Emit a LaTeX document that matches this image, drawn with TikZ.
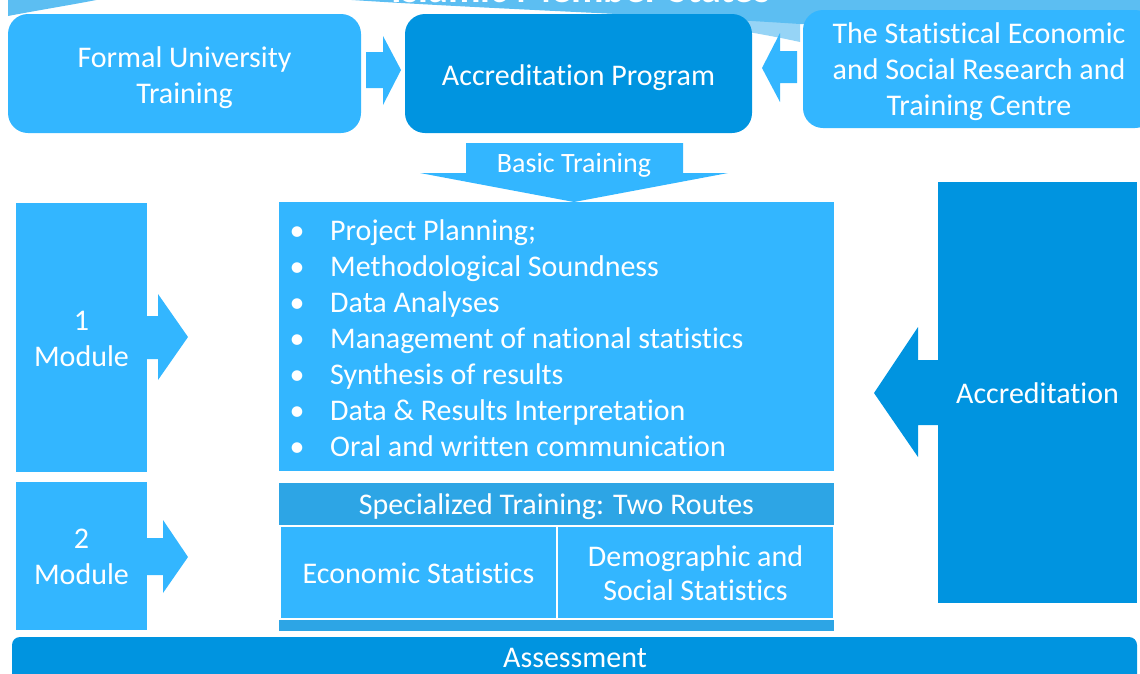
\documentclass[tikz,border=0pt]{standalone}
\usepackage{fontspec}
\setmainfont{Carlito}[Ligatures=NoCommon]
\definecolor{lb}{RGB}{51,182,255}
\definecolor{db}{RGB}{0,148,224}
\definecolor{mb}{RGB}{45,165,229}
\definecolor{rib}{RGB}{92,190,242}
\definecolor{ribl}{RGB}{150,212,246}
\tikzset{
  txt/.style={text=white, font=\fontsize{30}{36}\selectfont, inner sep=0pt, align=center},
  box/.style={fill=#1, inner sep=0pt},
  tbox/.style={fill=#1, inner sep=0pt, rounded corners=20pt}
}
\begin{document}
\begin{tikzpicture}[x=1pt,y=-1pt]
\useasboundingbox (0,0) rectangle (1140,673);
\clip (0,0) rectangle (1140,673);
% ribbon banner
\fill[rib] (8,-5) -- (8,16) .. controls (50,8) and (90,2) .. (120,-5) -- cycle;
\fill[ribl] (420,-5) .. controls (560,8) and (700,20) .. (800,42) -- (800,20) -- (1145,10) -- (1145,-5) -- cycle;
\fill[rib] (280,-5) .. controls (450,8) and (650,14) .. (800,24) .. controls (950,32) and (1050,20) .. (1145,16) -- (1145,-5) -- cycle;
\node[txt, font=\bfseries\fontsize{40}{48}\selectfont, anchor=base] (title) at (581,2) {Islamic Member States};
% top boxes
\node[tbox=lb, minimum width=353pt, minimum height=119pt] (formal) at (184.5,73.5) {};
\node[txt, yshift=-4pt] (formaltxt) at (formal) {Formal University\\Training};
\node[tbox=db, minimum width=347pt, minimum height=119pt] (accprog) at (578.5,73.5) {};
\node[txt, yshift=-4pt] (accprogtxt) at (accprog) {Accreditation Program};
\node[tbox=lb, minimum width=352pt, minimum height=118pt] (sesric) at (979,69) {};
\node[txt, yshift=-3pt] (sesrictxt) at (sesric) {The Statistical Economic\\and Social Research and\\Training Centre};
% top arrows
\fill[lb] (366,52) -- (383,52) -- (383,36) -- (401,70) -- (383,105) -- (383,88) -- (366,88) -- cycle;
\fill[lb] (797,51) -- (780,51) -- (780,33) -- (762,68) -- (780,102) -- (780,83) -- (797,83) -- cycle;
% basic training arrow
\fill[lb] (466,143) -- (683,143) -- (683,173) -- (728,173) -- (574,202) -- (420,173) -- (466,173) -- cycle;
\node[txt, font=\fontsize{28}{34}\selectfont] (basic) at (574,165) {Basic Training};
% bullet box
\fill[lb] (279,202) rectangle (834,471);
\foreach \t [count=\i] in {Project Planning;, Methodological Soundness, Data Analyses, Management of national statistics, Synthesis of results, Data \& Results Interpretation, Oral and written communication}{
  \node[txt, anchor=base west] (item\i) at (330,{240+36.15*(\i-1)}) {\t};
  \node[txt, anchor=base] (dot\i) at (297,{240+36.15*(\i-1)}) {•};
}
% modules
\node[box=lb, minimum width=131pt, minimum height=269pt] (mod1) at (81.5,337.5) {};
\node[txt, yshift=-1pt] (mod1txt) at (mod1) {1\\Module};
\fill[lb] (147,316) -- (158,316) -- (158,294) -- (188,337) -- (158,380) -- (158,359) -- (147,359) -- cycle;
\node[box=lb, minimum width=131pt, minimum height=148pt] (mod2) at (81.5,556) {};
\node[txt, yshift=-1pt] (mod2txt) at (mod2) {2\\Module};
\fill[lb] (147,538) -- (163,538) -- (163,520) -- (188,557) -- (163,593) -- (163,575) -- (147,575) -- cycle;
% specialized
\node[box=mb, minimum width=555pt, minimum height=42pt] (spec) at (556.5,503.5) {};
\node[txt, yshift=-3pt] (spectxt) at (spec) {Specialized Training: Two Routes};
\node[box=lb, minimum width=275pt, minimum height=91pt] (econ) at (418.5,572.5) {};
\node[txt, yshift=-1pt] (econtxt) at (econ) {Economic Statistics};
\node[box=lb, minimum width=275pt, minimum height=91pt] (demo) at (695.5,572.5) {};
\node[txt, yshift=-1pt] (demotxt) at (demo) {Demographic and\\[-2pt]Social Statistics};
\fill[mb] (279,620) rectangle (834,631);
% accreditation
\node[box=db, minimum width=199pt, minimum height=421pt] (accr) at (1037.5,392.5) {};
\node[txt, yshift=-1pt] (accrtxt) at (accr) {Accreditation};
\fill[db] (938,360) -- (918,360) -- (918,327) -- (874,393) -- (918,457) -- (918,425) -- (938,425) -- cycle;
% assessment
\fill[db, rounded corners=8pt] (12,690) -- (12,637) -- (1137,637) -- (1137,690);
\node[txt, anchor=base] (assess) at (575,667) {Assessment};
\end{tikzpicture}
\end{document}
